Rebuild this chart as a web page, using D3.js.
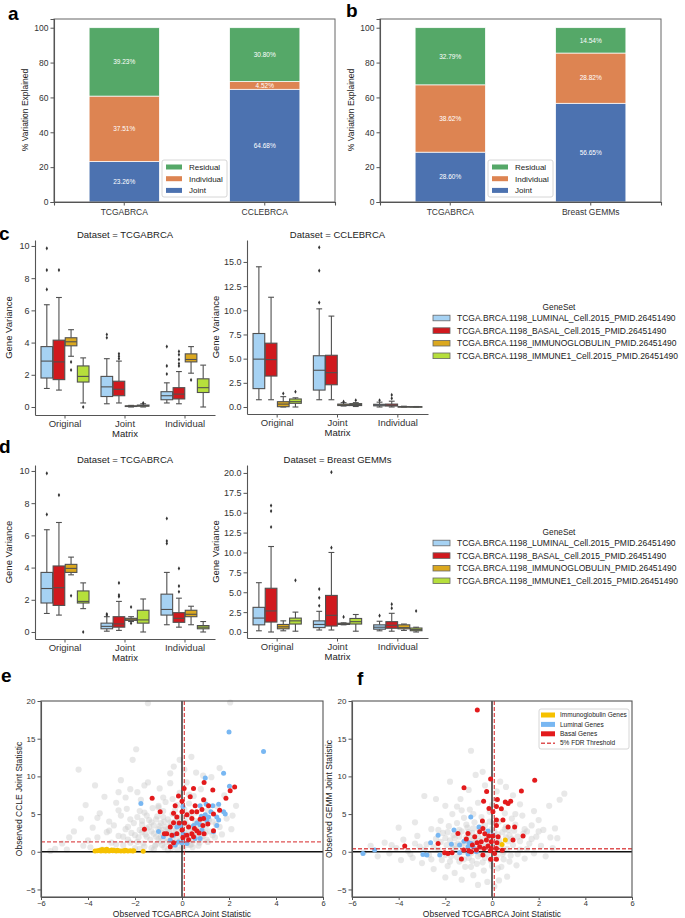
<!DOCTYPE html>
<html><head><meta charset="utf-8">
<script src="https://cdn.jsdelivr.net/npm/d3@7"></script>
<style>body{margin:0;background:#fff} svg{display:block}</style>
</head><body><svg id="fig"></svg>
<script>
const width = 685, height = 918;
const FONT = '"Liberation Sans", Arial, sans-serif';
const svg = d3.select("#fig").attr("width", width).attr("height", height)
  .attr("font-family", FONT);

// ---------- data: panels a / b ----------
const partNames = ["Joint", "Individual", "Residual"];
const partColors = ["#4c72b0", "#dd8452", "#55a868"];
const barCatsA = ["TCGABRCA", "CCLEBRCA"];
const jointA = [23.26, 64.68];
const indivA = [37.51, 4.52];
const residA = [39.23, 30.80];
const barCatsB = ["TCGABRCA", "Breast GEMMs"];
const jointB = [28.60, 56.65];
const indivB = [38.62, 28.82];
const residB = [32.79, 14.54];

// ---------- data: panels c / d ----------
const matrixCats = ["Original", "Joint", "Individual"];
const geneSets = [
  "TCGA.BRCA.1198_LUMINAL_Cell.2015_PMID.26451490",
  "TCGA.BRCA.1198_BASAL_Cell.2015_PMID.26451490",
  "TCGA.BRCA.1198_IMMUNOGLOBULIN_PMID.26451490",
  "TCGA.BRCA.1198_IMMUNE1_Cell.2015_PMID.26451490"];
const geneColors = ["#a6d2f3", "#d0191e", "#dba81f", "#b6df3c"];
// [matrix, geneSet, whiskerLo, q1, median, q3, whiskerHi, outliers]
const boxTcgaC = [
  [0,0,1.15,1.8,2.85,3.75,6.35,[7.3,8.5,9.85]],
  [0,1,1.05,1.7,2.8,4.15,6.8,[8.5]],
  [0,2,3.15,3.8,4.05,4.3,4.8,[2.8,2.3]],
  [0,3,0.25,1.55,1.9,2.55,3.05,[0.0]],
  [1,0,0.2,0.65,1.25,1.9,3.0,[4.3,4.5]],
  [1,1,0.25,0.7,1.1,1.6,2.85,[3.0,3.15,3.3]],
  [1,2,0.0,0.03,0.05,0.07,0.1,[]],
  [1,3,0.0,0.05,0.08,0.12,0.2,[0.25]],
  [2,0,0.25,0.45,0.7,0.95,1.5,[2.05,2.55,3.75]],
  [2,1,0.2,0.5,0.8,1.2,2.2,[2.55,2.7,2.95,3.25,3.45]],
  [2,2,2.1,2.8,2.95,3.3,3.75,[1.68]],
  [2,3,0.0,0.9,1.2,1.75,2.6,[]]
];
const boxCcle = [
  [0,0,0.75,1.9,4.95,7.6,14.5,[]],
  [0,1,0.75,3.2,4.9,6.6,11.35,[]],
  [0,2,0.0,0.03,0.3,0.55,1.07,[1.4]],
  [0,3,0.0,0.38,0.55,0.83,0.95,[1.58]],
  [1,0,0.75,1.75,3.8,5.3,10.15,[10.8,14.1,16.5]],
  [1,1,0.75,2.3,3.55,5.35,9.4,[]],
  [1,2,0.1,0.15,0.22,0.3,0.45,[0.55]],
  [1,3,0.05,0.15,0.25,0.35,0.45,[0.7]],
  [2,0,0.0,0.12,0.2,0.28,0.5,[0.7]],
  [2,1,0.0,0.1,0.18,0.3,0.6,[0.9,1.25]],
  [2,2,0.0,0.01,0.02,0.04,0.08,[]],
  [2,3,0.0,0.01,0.02,0.03,0.05,[]]
];
const boxTcgaD = [
  [0,0,1.15,1.8,2.7,3.7,6.35,[7.3,9.85]],
  [0,1,1.05,1.65,2.75,4.1,6.8,[8.5]],
  [0,2,3.55,3.7,3.95,4.2,4.65,[2.25]],
  [0,3,1.45,1.8,1.9,2.55,3.05,[0.0]],
  [1,0,0.05,0.2,0.35,0.55,0.95,[1.05,1.12]],
  [1,1,0.1,0.3,0.5,0.95,1.9,[2.2,2.3,3.05]],
  [1,2,0.65,0.72,0.8,0.85,0.95,[0.55,1.55]],
  [1,3,0.0,0.55,0.75,1.35,2.05,[]],
  [2,0,0.45,1.05,1.4,2.35,3.7,[5.5,5.65,7.05]],
  [2,1,0.3,0.6,0.85,1.2,2.1,[2.5,2.85,3.95]],
  [2,2,0.45,0.95,1.1,1.35,1.6,[]],
  [2,3,0.0,0.2,0.3,0.4,0.65,[]]
];
const boxGemm = [
  [0,0,0.15,0.9,1.75,3.1,6.2,[]],
  [0,1,0.0,1.25,2.65,5.5,10.75,[13.2,15.2,15.9]],
  [0,2,0.15,0.4,0.65,0.95,1.4,[]],
  [0,3,0.1,1.0,1.4,1.75,2.5,[6.5]],
  [1,0,0.25,0.55,0.95,1.4,2.6,[3.3,4.3,5.4]],
  [1,1,0.25,0.75,2.1,4.6,10.0,[10.6,20.1]],
  [1,2,0.9,0.95,1.0,1.1,1.15,[1.9]],
  [1,3,0.1,1.0,1.3,1.7,2.2,[]],
  [2,0,0.15,0.35,0.6,0.9,1.35,[2.05]],
  [2,1,0.1,0.47,0.85,1.3,2.35,[3.0,3.5]],
  [2,2,0.2,0.4,0.55,0.9,1.0,[]],
  [2,3,0.0,0.16,0.3,0.5,0.6,[2.64]]
];

// ---------- data: panels e / f ----------
const grayE = [[-5.6,0.1],[-5.4,0.4],[-5.1,1.1],[-4.9,0.3],[-4.6,2.7],[-4.4,10.9],[-4.3,4.4],[-4.1,6.2],[-4.0,1.5],[-3.9,0.6],
  [-3.8,3.2],[-3.6,1.9],[-3.5,5.1],[-3.3,7.3],[-3.2,2.6],[-3.1,4.0],[-3.0,1.2],[-2.9,3.5],[-2.8,6.5],[-2.7,2.1],
  [-2.6,4.8],[-2.5,0.9],[-2.4,3.0],[-2.35,5.7],[-2.3,1.6],[-2.2,8.3],[-2.15,2.5],[-2.1,12.2],[-2.05,3.8],[-2.0,0.5],
  [-1.95,13.6],[-1.9,4.6],[-1.85,1.9],[-1.8,2.9],[-1.75,6.9],[-1.7,3.6],[-1.65,1.1],[-1.6,5.2],[-1.55,2.3],[-1.45,19.7],
  [-1.5,3.1],[-1.45,9.2],[-1.4,4.2],[-1.35,1.6],[-1.3,2.7],[-1.25,5.8],[-1.2,3.5],[-1.15,0.8],[-1.1,2.0],[-1.05,4.7],
  [-1.0,3.0],[-0.95,8.4],[-0.9,1.4],[-0.9,3.8],[-0.85,2.5],[-0.8,5.4],[-0.75,0.6],[-0.7,3.3],[-0.7,6.6],[-0.65,1.8],
  [-0.6,4.3],[-0.55,2.8],[-0.5,10.4],[-0.5,1.2],[-0.45,3.6],[-0.4,5.0],[-0.4,2.2],[-0.35,11.3],[-0.3,0.9],[-0.3,4.0],
  [-0.25,2.9],[-0.2,6.2],[-0.2,1.6],[-0.15,3.4],[-0.1,7.8],[-0.1,2.4],[-0.05,4.6],[0.0,0.7],[0.0,3.1],[0.05,1.9],
  [0.1,5.6],[0.1,2.6],[0.15,4.1],[0.2,0.9],[0.2,9.2],[0.25,3.5],[0.3,1.5],[0.3,6.4],[0.35,2.3],[0.4,12.6],
  [0.4,4.6],[0.45,0.6],[0.5,3.0],[0.5,7.4],[0.55,1.9],[0.6,5.2],[0.65,2.6],[0.7,3.9],[0.75,1.2],[0.8,8.3],
  [0.85,4.4],[0.9,2.1],[0.95,6.8],[1.0,3.2],[1.05,1.6],[1.1,5.5],[1.2,2.7],[1.25,9.9],[1.3,4.0],[1.4,1.9],
  [1.5,6.0],[1.6,11.1],[1.6,3.3],[1.7,2.3],[1.8,7.5],[1.9,4.4],[2.05,19.8],[2.1,3.0],[2.15,4.8],[2.3,6.1],
  [-2.6,9.5],[-3.4,0.3],[-2.9,0.2],[-1.2,0.3],[-0.6,0.2],[-1.8,0.4],[-3.7,8.8],[-2.4,7.2],[-1.7,2.6],[-1.3,3.9],
  [-0.9,2.0],[-0.6,3.0],[-0.3,3.7],[0.0,2.2],[0.3,2.8],[0.6,3.5],[-1.1,1.0],[-0.2,0.3],[0.4,1.0],[-2.2,1.2],
  [-1.5,4.8],[-0.8,4.6],[0.2,4.9],[-1.0,6.1],[-0.4,7.0],[0.1,10.9],[-2.7,5.5],[-1.9,7.9],[0.9,10.1],[-0.1,12.2],
  [-2.3,3.3],[-2.0,2.2],[-1.9,1.3],[-1.7,4.1],[-1.6,0.7],[-1.5,2.0],[-1.4,3.3],[-1.3,0.5],[-1.2,2.4],[-1.1,4.3],
  [-1.0,1.7],[-0.95,3.4],[-0.85,0.9],[-0.8,2.9],[-0.75,4.0],[-0.65,1.3],[-0.6,2.5],[-0.5,3.9],[-0.45,0.5],[-0.4,1.5],
  [-0.35,2.7],[-0.25,1.1],[-0.2,4.5],[-0.1,1.4],[-0.05,3.5],[0.05,0.4],[0.1,3.8],[0.15,1.2],[0.25,2.1],[0.3,5.0],
  [0.35,0.9],[0.45,3.2],[0.5,1.5],[0.55,4.1],[0.6,2.2],[0.7,0.8],[0.75,3.0],[0.8,1.8],[0.9,3.7],[1.0,2.5],
  [1.1,1.3],[1.15,4.2],[1.3,2.2],[1.45,3.6],[-2.5,2.0],[-2.8,1.0],[-3.1,2.8],[-2.2,4.3],[-1.8,5.4],[-1.0,5.9],
  [-0.3,5.5],[0.3,7.6],[-0.8,7.2],[-1.6,8.8],[-0.5,9.1],[0.6,10.5],[-4.8,1.9],[-4.2,0.8],[-3.6,4.5],[-2.7,7.9]];
const goldE = [[-3.7,0.1],[-3.6,0.15],[-3.5,0.2],[-3.45,0.1],[-3.4,0.3],[-3.35,0.15],[-3.3,0.25],[-3.25,0.1],[-3.2,0.35],
  [-3.15,0.2],[-3.1,0.1],[-3.0,0.25],[-2.95,0.15],[-2.9,0.2],[-2.8,0.1],[-2.75,0.2],[-2.7,0.15],[-2.6,0.1],[-2.5,0.15],
  [-2.45,0.1],[-2.4,0.2],[-2.3,0.1],[-2.2,0.15],[-2.1,0.1],[-2.05,0.12],[-1.65,0.08]];
const blueE = [[2.0,15.9],[3.47,13.3],[1.77,10.4],[0.99,9.8],[2.02,8.7],[-1.75,6.4],[0.77,6.1],[1.03,6.3],[1.31,6.1],[1.56,6.3],
  [1.23,5.3],[0.99,4.9],[0.82,4.7],[1.13,4.6],[1.48,4.6],[1.77,5.3],[1.84,5.0],[1.56,4.2],[1.48,3.5],[1.06,4.1],
  [0.77,3.6],[0.63,3.8],[0.49,3.5],[1.34,2.65],[0.85,2.9],[-0.22,3.3],[-0.08,3.45],[0.04,6.0],[-1.0,2.7],[-0.79,2.0],
  [-0.36,2.2],[-0.5,1.55],[-0.29,0.9],[0.0,1.2],[0.21,1.1],[0.56,1.77],[0.77,1.77],[0.06,2.4],[-0.15,1.3]];
const redE = [[-1.27,7.1],[-1.6,3.0],[-0.93,5.3],[-0.15,7.4],[-0.29,6.1],[0.0,6.7],[0.35,7.3],[0.09,8.4],[0.49,8.4],[-0.36,5.1],
  [-0.22,4.6],[0.0,5.3],[0.21,4.9],[0.42,4.4],[0.63,5.3],[0.56,6.1],[0.85,5.6],[0.92,6.9],[0.94,9.2],[1.31,8.2],
  [1.13,6.1],[1.6,5.5],[1.87,7.1],[2.05,8.1],[2.24,8.6],[1.34,5.0],[1.1,3.7],[0.89,3.5],[0.73,2.5],[0.94,2.4],
  [0.53,3.1],[0.28,3.3],[0.11,3.8],[-0.12,3.8],[-0.36,3.85],[-0.5,3.3],[-0.65,2.4],[-0.43,2.2],[-0.22,2.4],[0.0,2.9],
  [0.21,2.2],[0.42,2.4],[0.63,2.8],[0.49,2.0],[0.28,1.6],[0.04,1.9],[-0.5,0.66],[-0.36,1.2],[-0.75,2.4],[1.34,2.8],
  [0.77,4.3],[0.92,4.4],[0.42,5.3]];

const grayF = [[-5.5,-0.1],[-5.2,0.8],[-4.9,-0.6],[-4.6,1.2],[-4.4,-0.2],[-4.1,0.5],[-3.9,-1.1],[-3.8,1.6],[-3.6,0.1],[-3.4,-0.8],
  [-3.2,2.1],[-3.1,0.7],[-3.0,-1.5],[-2.9,7.4],[-2.8,1.0],[-2.7,-0.4],[-2.6,3.0],[-2.5,-2.3],[-2.4,1.7],[-2.3,0.3],
  [-2.2,4.1],[-2.15,-1.1],[-2.1,2.5],[-2.0,6.1],[-1.95,0.9],[-1.9,-1.9],[-1.85,3.4],[-1.8,1.5],[-1.75,-0.6],[-1.7,5.0],
  [-1.65,2.2],[-1.6,-2.8],[-1.55,0.4],[-1.5,3.8],[-1.45,1.1],[-1.4,-1.3],[-1.35,7.0],[-1.3,2.7],[-1.25,0.0],[-1.2,4.5],
  [-1.15,-2.0],[-1.1,1.9],[-1.05,3.2],[-1.0,-0.8],[-0.95,5.6],[-0.9,13.4],[-0.9,0.6],[-0.85,2.5],[-0.8,-3.1],[-0.75,3.9],
  [-0.7,1.3],[-0.65,-1.6],[-0.6,6.5],[-0.55,2.9],[-0.5,-0.3],[-0.45,4.6],[-0.4,1.7],[-0.35,-2.5],[-0.3,8.8],[-0.3,3.5],
  [-0.25,0.9],[-0.2,-4.0],[-0.15,2.4],[-0.1,5.3],[-0.05,-1.2],[0.0,3.0],[0.05,0.2],[0.1,-4.6],[0.15,6.9],[0.2,1.8],
  [0.25,-2.2],[0.3,4.0],[0.35,9.3],[0.4,0.7],[0.45,2.6],[0.5,-1.0],[0.55,5.1],[0.6,3.3],[0.65,-3.3],[0.7,1.4],
  [0.75,2.2],[0.8,-0.5],[0.85,4.4],[0.9,0.9],[1.0,3.6],[1.05,-1.8],[1.1,2.0],[1.2,0.3],[1.3,4.8],[1.4,-0.9],
  [1.5,2.7],[1.6,1.1],[1.7,3.5],[1.8,-0.2],[1.9,2.0],[2.0,4.2],[2.1,0.8],[2.2,2.9],[2.3,-0.6],[2.45,6.1],
  [2.5,1.9],[2.7,3.1],[2.9,6.9],[3.1,7.7],[2.6,0.5],[-3.3,3.9],[-2.0,-3.4],[-1.3,-3.7],[-0.6,-4.4],[0.3,-3.8],
  [-1.8,9.3],[-2.4,7.0],[-0.7,10.2],[0.2,8.0],[-1.0,8.2],[-1.5,6.0],[-4.0,3.2],[1.2,6.3],[0.9,7.5],[-1.2,1.2],
  [-0.8,1.6],[-0.4,0.2],[0.0,1.1],[0.3,1.5],[-0.6,2.1],[-1.6,0.9],[-0.2,1.9],[0.5,0.0],[-1.0,2.6],[0.7,2.9],
  [-2.5,0.6],[-0.9,-0.2],[0.1,2.7],[-0.5,1.0],[-1.4,2.0],[-0.3,-0.8],[0.6,1.9],[-2.0,1.8],[1.4,3.0],[-0.1,4.0],
  [-2.2,1.3],[-2.0,-0.4],[-1.9,2.6],[-1.7,0.5],[-1.6,1.8],[-1.5,-0.7],[-1.4,2.9],[-1.3,0.8],[-1.2,-1.0],[-1.1,3.6],
  [-1.0,0.2],[-0.95,1.9],[-0.85,-1.2],[-0.8,3.1],[-0.7,0.4],[-0.6,-0.6],[-0.55,1.4],[-0.45,3.2],[-0.4,-1.4],[-0.35,0.6],
  [-0.25,2.6],[-0.2,-0.3],[-0.1,1.6],[0.0,-1.9],[0.05,3.8],[0.1,0.7],[0.2,-0.6],[0.25,2.3],[0.35,1.1],[0.45,-0.3],
  [0.55,3.0],[0.65,0.4],[0.75,-1.3],[0.85,1.7],[0.95,2.8],[1.1,-0.3],[1.2,1.4],[1.35,2.4],[1.5,0.4],[1.7,1.7],
  [-2.6,-1.0],[-2.9,0.3],[-3.3,1.1],[-2.3,2.9],[-1.8,-1.3],[-0.9,-2.0],[0.4,-2.0],[1.0,5.0],[0.0,6.2],[-0.8,5.0],
  [-1.3,5.5],[-3.5,-0.3],[-4.3,0.9],[2.0,2.7],[2.8,1.8],[1.8,5.4],[-0.4,10.6],[0.6,8.6]];
const goldF = [[0.57,1.55],[0.43,0.97]];
const blueF = [[-5.53,-0.22],[-5.03,0.22],[-2.96,-0.35],[-2.79,-0.44],[-2.63,1.2],[-2.31,2.2],[-2.24,-0.44],[-1.63,2.9],
  [-1.74,1.0],[-1.39,0.9],[-1.2,1.4],[-0.91,4.6],[-0.99,1.2],[-0.89,1.1],[-0.81,0.66],[-1.03,-0.3],[-0.67,0.0],
  [-0.56,3.3],[-0.17,2.75],[0.04,2.2],[-1.03,0.66],[-1.39,-0.13]];
const redF = [[-0.63,18.8],[1.83,9.5],[1.26,8.05],[-0.06,9.65],[-1.2,8.5],[-0.23,8.0],[-0.36,6.7],[0.23,6.95],[0.57,6.6],
  [0.69,6.4],[0.8,6.7],[0.19,6.0],[0.4,5.7],[-0.13,5.75],[0.04,5.3],[0.47,4.2],[0.19,4.2],[-0.41,4.07],[0.19,3.5],
  [0.69,3.3],[0.97,3.3],[1.33,2.1],[0.9,1.55],[-1.46,2.43],[-1.03,2.43],[-0.74,2.0],[-1.1,1.7],[-2.31,1.1],[-3.74,0.75],
  [-0.53,2.65],[-0.39,3.1],[-0.31,2.4],[-0.14,2.1],[0.04,2.1],[0.21,1.2],[-0.24,1.55],[-0.46,1.33],[-0.64,1.2],
  [-0.84,0.9],[-0.53,0.66],[-0.34,0.44],[-0.17,0.75],[-0.03,0.44],[0.19,0.44],[0.44,0.2],[-0.03,1.33],[0.26,2.0],
  [-2.03,-0.13],[-1.89,-0.22],[-1.71,-0.13],[-1.31,-0.97],[-0.99,0.1],[-0.67,0.22],[-0.39,-0.44],[-0.06,-1.0],
  [0.19,-1.0],[-0.07,0.13],[0.11,-0.22],[-1.21,0.22],[-0.89,0.0]];
const scatterLegend = ["Immunoglobulin Genes", "Luminal Genes", "Basal Genes", "5% FDR Threshold"];
const scatterColors = ["#f6c100", "#78b7f2", "#e31a1c"];

// ---------- helpers ----------
function axisStyle(g, fs) {
  g.attr("font-family", FONT).attr("font-size", fs);
  g.selectAll(".domain").attr("stroke", "#555").attr("stroke-width", 1.1);
  g.selectAll(".tick line").attr("stroke", "#555");
  g.selectAll(".tick text").attr("fill", "#333");
}
function txt(x, y, s, fs, opt = {}) {
  const t = svg.append("text").attr("x", x).attr("y", y).attr("font-size", fs)
    .attr("fill", opt.fill || "#222").attr("text-anchor", opt.anchor || "middle").text(s);
  if (opt.rotate) t.attr("transform", `rotate(-90,${x},${y})`);
  if (opt.bold) t.attr("font-weight", "bold");
  return t;
}
function letter(x, y, s) { txt(x, y, s, 19, {bold: true, anchor: "start", fill: "#000"}); }

// ---------- stacked bars ----------
function barPanel(x0, x1, cats, joint, indiv, resid) {
  const x = d3.scaleBand().domain(cats).range([x0, x1]).paddingInner(0.5).paddingOuter(0.25);
  const y = d3.scaleLinear().domain([0, 105]).range([202, 19]);
  const g = svg.append("g");
  const parts = [joint, indiv, resid];
  cats.forEach((c, i) => {
    let base = 0;
    parts.forEach((vals, k) => {
      const v = vals[i];
      g.append("rect")
        .attr("x", x(c)).attr("width", x.bandwidth())
        .attr("y", y(base + v)).attr("height", y(base) - y(base + v))
        .attr("fill", partColors[k]).attr("stroke", "#fff").attr("stroke-width", 0.7);
      g.append("text")
        .attr("x", x(c) + x.bandwidth() / 2).attr("y", y(base + v / 2))
        .attr("dy", "0.35em").attr("text-anchor", "middle")
        .attr("font-size", 6.5).attr("fill", "#fff").text(v.toFixed(2) + "%");
      base += v;
    });
  });
  g.append("rect").attr("x", x0).attr("y", 19).attr("width", x1 - x0).attr("height", 183)
    .attr("fill", "none").attr("stroke", "#666").attr("stroke-width", 1);
  const ay = g.append("g").attr("transform", `translate(${x0},0)`)
    .call(d3.axisLeft(y).tickValues([0, 20, 40, 60, 80, 100]).tickSize(3.5).tickPadding(2));
  axisStyle(ay, 8.5);
  const ax = g.append("g").attr("transform", "translate(0,202)")
    .call(d3.axisBottom(x).tickSize(3.5).tickPadding(3));
  axisStyle(ax, 8.5);
  txt(x0 - 26, 110, "% Variation Explained", 8.5, {rotate: true});
  // legend
  const lx = x0 + 108, ly = 160;
  g.append("rect").attr("x", lx).attr("y", ly).attr("width", 65).attr("height", 37).attr("rx", 2)
    .attr("fill", "#fff").attr("fill-opacity", 0.85).attr("stroke", "#ccc").attr("stroke-width", 0.8);
  [2, 1, 0].forEach((k, r) => {
    const ry = ly + 7 + r * 11.7;
    g.append("rect").attr("x", lx + 4).attr("y", ry - 2.5).attr("width", 16).attr("height", 5).attr("fill", partColors[k]);
    g.append("text").attr("x", lx + 27).attr("y", ry).attr("dy", "0.35em").attr("font-size", 8)
      .attr("fill", "#222").text(partNames[k]);
  });
}

// ---------- boxplots ----------
function boxPanel(x0, x1, yBot, yTop, dom, ticks, fmt, rows, title, labX) {
  const x = d3.scaleBand().domain(matrixCats).range([x0, x1]);
  const bw0 = x.bandwidth();
  const xs = d3.scaleBand().domain(d3.range(geneSets.length)).range([bw0 * 0.1, bw0 * 0.9]).paddingInner(0.04);
  const y = d3.scaleLinear().domain(dom).range([yBot, yTop]);
  const g = svg.append("g");
  const line = "#505050";
  rows.forEach(r => {
    const [m, s, lo, q1, med, q3, hi, out] = r;
    const bx = x(matrixCats[m]) + xs(s), bw = xs.bandwidth(), cx = bx + bw / 2;
    g.append("line").attr("x1", cx).attr("x2", cx).attr("y1", y(lo)).attr("y2", y(q1)).attr("stroke", line).attr("stroke-width", 1.1);
    g.append("line").attr("x1", cx).attr("x2", cx).attr("y1", y(q3)).attr("y2", y(hi)).attr("stroke", line).attr("stroke-width", 1.1);
    [lo, hi].forEach(v => g.append("line").attr("x1", cx - bw / 4).attr("x2", cx + bw / 4)
      .attr("y1", y(v)).attr("y2", y(v)).attr("stroke", line).attr("stroke-width", 1.1));
    g.append("rect").attr("x", bx).attr("y", y(q3)).attr("width", bw).attr("height", Math.max(0.5, y(q1) - y(q3)))
      .attr("fill", geneColors[s]).attr("stroke", line).attr("stroke-width", 1.1);
    g.append("line").attr("x1", bx).attr("x2", bx + bw).attr("y1", y(med)).attr("y2", y(med)).attr("stroke", line).attr("stroke-width", 1.1);
    out.forEach(o => g.append("path").attr("d", d3.symbol(d3.symbolDiamond, 5)())
      .attr("transform", `translate(${cx},${y(o)})`).attr("fill", "#333"));
  });
  const ay = g.append("g").attr("transform", `translate(${x0},0)`)
    .call(d3.axisLeft(y).tickValues(ticks).tickFormat(fmt).tickSize(3.5).tickPadding(2).tickSizeOuter(0));
  axisStyle(ay, 9);
  const ax = g.append("g").attr("transform", `translate(0,${yBot})`)
    .call(d3.axisBottom(x).tickSize(3.5).tickPadding(2).tickSizeOuter(0));
  axisStyle(ax, 9.5);
  txt((x0 + x1) / 2, yBot + 22, "Matrix", 9.5);
  txt((x0 + x1) / 2, yTop - 2, title, 9.5);
  txt(labX, (yTop + yBot) / 2, "Gene Variance", 9.5, {rotate: true});
}
function geneLegend(yTitle) {
  txt(559, yTitle + 3, "GeneSet", 8.3);
  geneSets.forEach((n, i) => {
    const ry = yTitle + 11 + i * 12.6;
    svg.append("rect").attr("x", 433).attr("y", ry - 2.8).attr("width", 17).attr("height", 5.6)
      .attr("fill", geneColors[i]).attr("stroke", "#666").attr("stroke-width", 0.8);
    svg.append("text").attr("x", 457).attr("y", ry).attr("dy", "0.35em").attr("font-size", 8.5)
      .attr("fill", "#222").text(n);
  });
}

// ---------- scatter ----------
function scatterPanel(x0, x1, gray, gold, blue, red, hCut, vCut, ylab, labX) {
  const x = d3.scaleLinear().domain([-6, 6]).range([x0, x1]);
  const y = d3.scaleLinear().domain([-6, 20]).range([897, 701]);
  const g = svg.append("g");
  g.selectAll(".gp").data(gray).join("circle").attr("cx", d => x(d[0])).attr("cy", d => y(d[1]))
    .attr("r", 3.1).attr("fill", "#cccccc").attr("fill-opacity", 0.45);
  g.append("line").attr("x1", x(0)).attr("x2", x(0)).attr("y1", 701).attr("y2", 897).attr("stroke", "#111").attr("stroke-width", 1.3);
  g.append("line").attr("x1", x0).attr("x2", x1).attr("y1", y(0)).attr("y2", y(0)).attr("stroke", "#111").attr("stroke-width", 1.3);
  [gold, blue, red].forEach((pts, k) => {
    g.selectAll(".c" + k).data(pts).join("circle").attr("cx", d => x(d[0])).attr("cy", d => y(d[1]))
      .attr("r", 2.5).attr("fill", scatterColors[k]);
  });
  g.append("line").attr("x1", x(vCut)).attr("x2", x(vCut)).attr("y1", 701).attr("y2", 897)
    .attr("stroke", "#d62728").attr("stroke-opacity", 0.8).attr("stroke-width", 1.3).attr("stroke-dasharray", "4,2");
  g.append("line").attr("x1", x0).attr("x2", x1).attr("y1", y(hCut)).attr("y2", y(hCut))
    .attr("stroke", "#d62728").attr("stroke-opacity", 0.8).attr("stroke-width", 1.3).attr("stroke-dasharray", "4,2");
  g.append("rect").attr("x", x0).attr("y", 701).attr("width", x1 - x0).attr("height", 196)
    .attr("fill", "none").attr("stroke", "#555").attr("stroke-width", 1.1);
  const ay = g.append("g").attr("transform", `translate(${x0},0)`)
    .call(d3.axisLeft(y).tickValues([-5, 0, 5, 10, 15, 20]).tickSize(3.5).tickPadding(2).tickSizeOuter(0));
  axisStyle(ay, 8);
  const ax = g.append("g").attr("transform", "translate(0,897)")
    .call(d3.axisBottom(x).tickValues([-6, -4, -2, 0, 2, 4, 6]).tickSize(3).tickPadding(1).tickSizeOuter(0));
  axisStyle(ax, 7.5);
  txt((x0 + x1) / 2, 917, "Observed TCGABRCA Joint Statistic", 8.5);
  txt(labX, 799, ylab, 8.5, {rotate: true});
}

// ---------- draw ----------
letter(8, 20, "a");
letter(346, 17, "b");
barPanel(54, 335, barCatsA, jointA, indivA, residA);
barPanel(380, 661, barCatsB, jointB, indivB, residB);

letter(-1, 240, "c");
boxPanel(35, 215, 415, 240, [-0.497, 10.37], d3.range(0, 11, 2), d3.format("d"), boxTcgaC, "Dataset = TCGABRCA", 12);
boxPanel(247, 428, 414, 240, [-0.724, 17.27], d3.range(0, 15.1, 2.5), d3.format(".1f"), boxCcle, "Dataset = CCLEBRCA", 219);
geneLegend(307);

letter(-1, 453, "d");
boxPanel(35, 215, 639, 465, [-0.435, 10.37], d3.range(0, 11, 2), d3.format("d"), boxTcgaD, "Dataset = TCGABRCA", 12);
boxPanel(247, 428, 638, 465, [-0.755, 21.0], d3.range(0, 20.1, 2.5), d3.format(".1f"), boxGemm, "Dataset = Breast GEMMs", 219);
geneLegend(532);

letter(1, 682, "e");
letter(357, 685, "f");
scatterPanel(41, 323, grayE, goldE, blueE, redE, 1.3, 0.1, "Observed CCLE Joint Statistic", 22);
scatterPanel(352, 632, grayF, goldF, blueF, redF, 0.4, 0.1, "Observed GEMM Joint Statistic", 332);

// legend for panel f
const lg = svg.append("g");
lg.append("rect").attr("x", 539).attr("y", 709).attr("width", 90).attr("height", 40).attr("rx", 2)
  .attr("fill", "#fff").attr("stroke", "#ccc").attr("stroke-width", 0.8);
scatterLegend.forEach((n, i) => {
  const ry = 715 + i * 9.4;
  if (i < 3) {
    lg.append("rect").attr("x", 541).attr("y", ry - 2.5).attr("width", 14).attr("height", 5).attr("fill", scatterColors[i]);
  } else {
    lg.append("line").attr("x1", 541).attr("x2", 555).attr("y1", ry).attr("y2", ry)
      .attr("stroke", "#d62728").attr("stroke-opacity", 0.8).attr("stroke-width", 1.4).attr("stroke-dasharray", "4,2");
  }
  lg.append("text").attr("x", 560).attr("y", ry).attr("dy", "0.35em").attr("font-size", 6.5)
    .attr("fill", "#222").text(n);
});
</script>
</body></html>
